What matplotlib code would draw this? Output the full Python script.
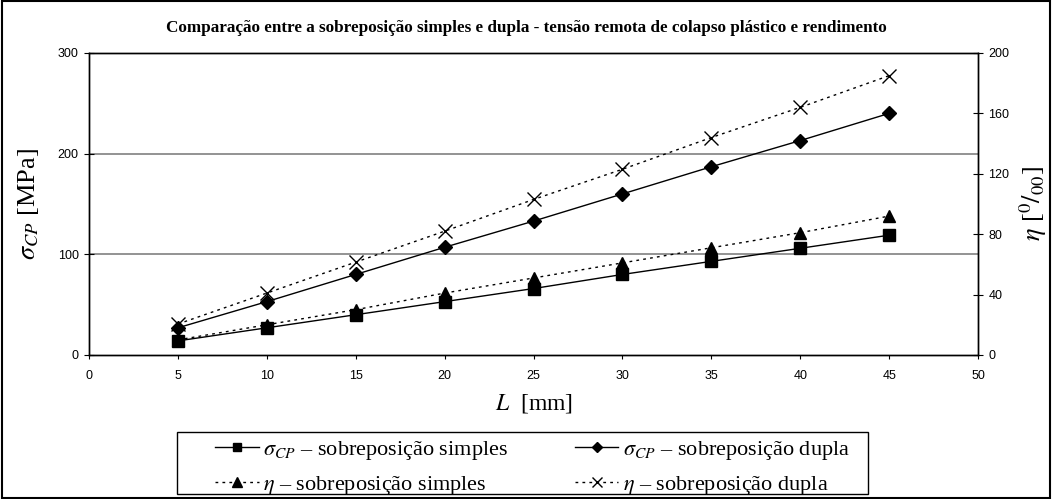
import numpy as np
import matplotlib
matplotlib.use('Agg')
import matplotlib.pyplot as plt
from matplotlib.patches import Rectangle

# comprimento da sobreposicao
L = [5, 10, 15, 20, 25, 30, 35, 40, 45]
# tensao remota de colapso plastico [MPa]
sigma_simples = [14, 27, 40, 53, 66, 80, 93, 106, 119]
sigma_dupla = [27, 53, 80, 107, 133, 160, 187, 213, 240]
# rendimento [0/00]
eta_simples = [10, 20, 30, 41, 51, 61, 71, 81, 92]
eta_dupla = [20.5, 41, 61.5, 82, 103, 123, 144, 164, 185]

plt.rcParams['mathtext.fontset'] = 'stix'
serif = 'Liberation Serif'
sans = 'Liberation Sans'

fig = plt.figure(figsize=(10.52, 4.99), dpi=100)
ax = fig.add_axes([0.0846, 0.2886, 0.8451, 0.6052])
ax2 = ax.twinx()

l1, = ax.plot(L, sigma_simples, color='black', lw=1, marker='s', ms=8, ls='-')
l2, = ax.plot(L, sigma_dupla, color='black', lw=1, marker='D', ms=7, ls='-')
l3, = ax2.plot(L, eta_simples, color='black', lw=1, marker='^', ms=9, ls=(0, (2, 3)))
l4, = ax2.plot(L, eta_dupla, color='black', lw=1, marker='x', ms=10, mew=1, ls=(0, (2, 3)))

ax.set_xlim(0, 50)
ax.set_ylim(0, 300)
ax2.set_ylim(0, 200)
ax.set_xticks(range(0, 51, 5))
ax.set_yticks([0, 100, 200, 300])
ax2.set_yticks(range(0, 201, 40))
for y in [100, 200]:
    ax.axhline(y, color='#808080', lw=1.2, zorder=0)

for a in (ax, ax2):
    for s in a.spines.values():
        s.set_linewidth(1.0)
        s.set_color('black')
ax.tick_params(axis='x', direction='out', length=3, labelsize=9, pad=8)
ax.tick_params(axis='y', direction='inout', length=7, labelsize=9, pad=4)
ax2.tick_params(axis='y', direction='inout', length=7, labelsize=9, pad=4)
for lab in ax.get_xticklabels() + ax.get_yticklabels() + ax2.get_yticklabels():
    lab.set_family(sans)

ax.set_xlabel(r'$L$  [mm]', fontsize=17, family=serif, labelpad=7)
ax.set_ylabel(r'$\sigma_{CP}$ [MPa]', fontsize=19, family=serif, labelpad=12)
ax2.set_ylabel(r'$\eta$ [$^{0}/_{00}$]', fontsize=19, family=serif, labelpad=6, rotation=90)

fig.text(0.5, 0.944, 'Comparação entre a sobreposição simples e dupla - tensão remota de colapso plástico e rendimento',
         ha='center', va='center', fontsize=12.3, fontweight='bold', family=serif)

leg = fig.legend([l1, l3, l2, l4],
                 [r'$\sigma_{CP}$ – sobreposição simples', r'$\eta$ – sobreposição simples',
                  r'$\sigma_{CP}$ – sobreposição dupla', r'$\eta$ – sobreposição dupla'],
                 ncol=2, loc='center', bbox_to_anchor=(532.5 / 1052, 1 - 468 / 499),
                 prop={'family': serif, 'size': 16}, frameon=False,
                 handlelength=1.95, handletextpad=0.2, columnspacing=3.0,
                 borderpad=0, borderaxespad=0, labelspacing=0.55, markerscale=0.75)

# legend frame (drawn separately, the content is not centred in it)
fig.patches.append(Rectangle((177 / 1052, 1 - 494 / 499), 691 / 1052, 62 / 499,
                             transform=fig.transFigure, fill=False, edgecolor='black', lw=1.0))
# outer border
fig.patches.append(Rectangle((0.002, 0.003), 0.996, 0.994, transform=fig.transFigure,
                             fill=False, edgecolor='black', lw=1.5))

fig.savefig('out.png', dpi=100)
